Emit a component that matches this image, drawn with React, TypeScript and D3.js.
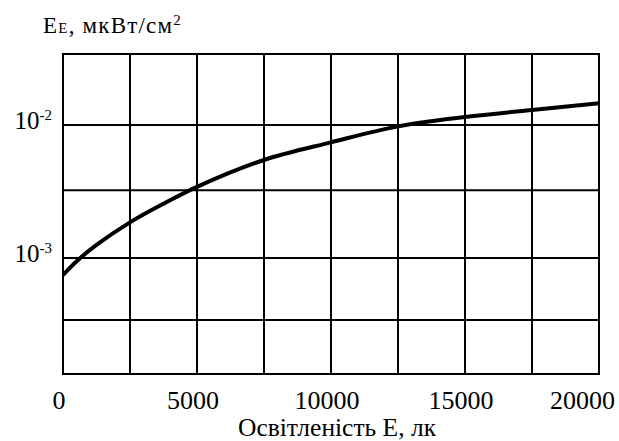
import * as d3 from "d3";

// illuminance, lx
const illuminance = [0, 600, 1250, 2500, 3750, 5000, 7500, 10000, 12500, 15000, 17500, 20000];
// irradiance E_E, µW/cm²
const irradiance = [7.45e-4, 9.82e-4, 1.256e-3, 1.854e-3, 2.559e-3, 3.43e-3, 5.46e-3, 7.41e-3, 9.77e-3, 1.148e-2, 1.297e-2, 1.456e-2];

const xTicks = [0, 5000, 10000, 15000, 20000];
const xGrid = [2500, 5000, 7500, 10000, 12500, 15000, 17500];
const yGrid = [1e-2, 3.24e-3, 1e-3, 3.42e-4];
const yLabels = [
  { value: 1e-2, exp: "-2" },
  { value: 1e-3, exp: "-3" },
];
const yDomain = [1.343e-4, 3.42e-2];

const W = 619;
const H = 441;
const margin = { top: 54, right: 20, bottom: 67, left: 63 };
const serif = { fontFamily: '"Liberation Serif"' };

export default function App() {
  const x = d3.scaleLinear().domain([0, 20000]).range([margin.left, W - margin.right]);
  const y = d3.scaleLog().domain(yDomain).range([H - margin.bottom, margin.top]);

  const line = d3
    .line<number>()
    .x((_, i) => x(illuminance[i]))
    .y((d) => y(d))
    .curve(d3.curveCatmullRom.alpha(0.5));

  const top = y(yDomain[1]);
  const bottom = y(yDomain[0]);

  return (
    <svg width={W} height={H} style={{ position: "absolute", left: 0, top: 0, background: "#fff" }}>
      <g stroke="#000" strokeWidth={2}>
        {xGrid.map((d) => (
          <line key={"v" + d} x1={x(d)} x2={x(d)} y1={bottom} y2={top} />
        ))}
        {yGrid.map((d) => (
          <line key={"h" + d} x1={x(0)} x2={x(20000)} y1={y(d)} y2={y(d)} />
        ))}
        <rect x={x(0)} y={top} width={x(20000) - x(0)} height={bottom - top} fill="none" />
      </g>

      <path d={line(irradiance) || ""} fill="none" stroke="#000" strokeWidth={4} />

      {xTicks.map((d, i) => {
        const last = i === xTicks.length - 1;
        return (
          <text
            key={"xt" + d}
            x={last ? W - 4 : x(d) - 4}
            y={409}
            textAnchor={last ? "end" : "middle"}
            fontSize={26}
            style={serif}
          >
            {d}
          </text>
        );
      })}

      {yLabels.map((d) => (
        <text key={"yt" + d.exp} x={52} y={y(d.value) + 4} textAnchor="end" fontSize={25} style={serif}>
          <tspan>10</tspan>
          <tspan fontSize={15} dy={-9}>
            {d.exp}
          </tspan>
        </text>
      ))}

      <text x={43} y={33} fontSize={23} letterSpacing={1.2} style={serif}>
        <tspan>E</tspan>
        <tspan fontSize={15}>E</tspan>
        <tspan>, мкВт/см</tspan>
        <tspan fontSize={15} dy={-8}>
          2
        </tspan>
      </text>

      <text x={337} y={436} textAnchor="middle" fontSize={25.5} style={serif}>
        Освітленість Е, лк
      </text>
    </svg>
  );
}
